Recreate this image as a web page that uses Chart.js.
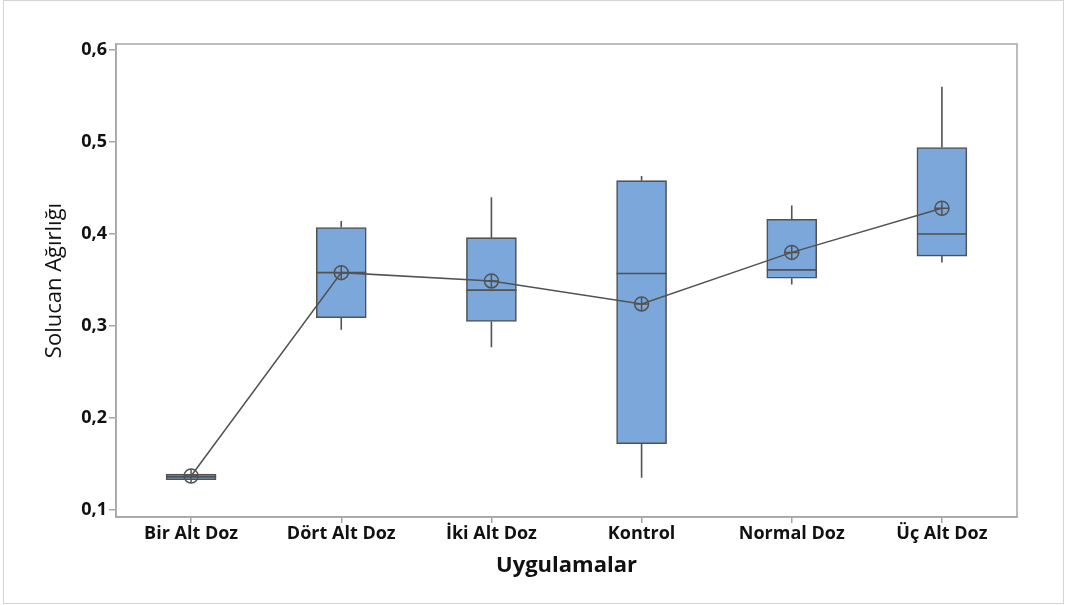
<!DOCTYPE html>
<html>
<head>
<meta charset="utf-8">
<script src="https://cdn.jsdelivr.net/npm/chart.js@4"></script>
<style>
  html, body { margin: 0; padding: 0; background: #fff; }
  #wrap { width: 1066px; height: 605px; position: relative; }
</style>
</head>
<body>
<div id="wrap"><canvas id="boxChart" width="1066" height="605"></canvas></div>
<script>
/* data */
const categories = ["Bir Alt Doz", "Dört Alt Doz", "İki Alt Doz", "Kontrol", "Normal Doz", "Üç Alt Doz"];
const whiskerLow  = [0.133, 0.296, 0.277, 0.135, 0.345, 0.369];
const q1Values    = [0.133, 0.309, 0.305, 0.172, 0.352, 0.376];
const medianVals  = [0.136, 0.358, 0.339, 0.357, 0.361, 0.400];
const q3Values    = [0.139, 0.407, 0.396, 0.458, 0.416, 0.494];
const whiskerHigh = [0.139, 0.414, 0.440, 0.463, 0.431, 0.560];
const meanValues  = [0.137, 0.358, 0.349, 0.324, 0.380, 0.428];
const yTicks      = [0.1, 0.2, 0.3, 0.4, 0.5, 0.6];

const EDGE = "#525252";
const AXIS = "#a6a6a6";

/* whiskers + median, drawn right after the boxes */
const boxDetails = {
  id: "boxDetails",
  afterDatasetDraw(chart, args) {
    if (args.index !== 0) return;
    const ctx = chart.ctx;
    const x = chart.scales.x, y = chart.scales.y;
    const bars = args.meta.data;
    ctx.save();
    ctx.strokeStyle = EDGE;
    ctx.lineWidth = 1.6;
    categories.forEach((c, i) => {
      const cx = x.getPixelForValue(i);
      const half = bars[i].width / 2;
      ctx.beginPath();
      ctx.moveTo(cx, y.getPixelForValue(q3Values[i]));
      ctx.lineTo(cx, y.getPixelForValue(whiskerHigh[i]));
      ctx.moveTo(cx, y.getPixelForValue(q1Values[i]));
      ctx.lineTo(cx, y.getPixelForValue(whiskerLow[i]));
      ctx.moveTo(cx - half, y.getPixelForValue(medianVals[i]));
      ctx.lineTo(cx + half, y.getPixelForValue(medianVals[i]));
      ctx.stroke();
    });
    ctx.restore();
  }
};

/* frame around plot area and outer border */
const frames = {
  id: "frames",
  beforeDraw(chart) {
    const ctx = chart.ctx;
    ctx.save();
    ctx.strokeStyle = "#d4d4d4";
    ctx.lineWidth = 1;
    ctx.strokeRect(3.5, 0.5, 1060, 603);
    ctx.restore();
  },
  afterDraw(chart) {
    const a = chart.chartArea;
    const ctx = chart.ctx;
    ctx.save();
    ctx.strokeStyle = AXIS;
    ctx.lineWidth = 1.5;
    ctx.strokeRect(a.left, a.top, a.right - a.left, a.bottom - a.top);
    ctx.restore();
  }
};

const ctx = document.getElementById("boxChart").getContext("2d");

new Chart(ctx, {
  type: "bar",
  data: {
    labels: categories,
    datasets: [
      {
        type: "bar",
        label: "Box",
        data: q1Values.map((q, i) => [q, q3Values[i]]),
        backgroundColor: "#7ba7da",
        borderColor: EDGE,
        borderWidth: 1.6,
        borderSkipped: false,
        barThickness: 50,
        order: 3
      },
      {
        type: "line",
        label: "Mean",
        data: meanValues,
        borderColor: EDGE,
        borderWidth: 1.5,
        pointStyle: "circle",
        pointRadius: 7,
        pointBorderWidth: 1.5,
        pointBorderColor: EDGE,
        pointBackgroundColor: "rgba(0,0,0,0)",
        tension: 0,
        order: 1
      },
      {
        type: "line",
        label: "MeanCross",
        data: meanValues,
        showLine: false,
        pointStyle: "cross",
        pointRadius: 7,
        pointBorderWidth: 1.5,
        pointBorderColor: EDGE,
        order: 0
      }
    ]
  },
  options: {
    responsive: false,
    animation: false,
    layout: {
      padding: { top: 44, right: 49, left: 0, bottom: 0 }
    },
    plugins: {
      legend: { display: false },
      tooltip: { enabled: false }
    },
    scales: {
      x: {
        offset: true,
        grid: {
          display: true,
          offset: false,
          drawOnChartArea: false,
          color: AXIS,
          tickLength: 6,
          lineWidth: 1.5
        },
        border: { color: AXIS, width: 1.5 },
        ticks: {
          color: "#111",
          padding: 0,
          font: { family: "Open Sans", size: 18, weight: "700" }
        },
        title: {
          display: true,
          text: "Uygulamalar",
          color: "#111",
          padding: { top: 0, bottom: 26 },
          font: { family: "Open Sans", size: 22, weight: "700" }
        },
        afterFit(scale) { scale.height = 88; }
      },
      y: {
        min: 0.0924,
        max: 0.6065,
        afterBuildTicks(scale) {
          scale.ticks = yTicks.map(v => ({ value: v }));
        },
        grid: {
          display: true,
          drawOnChartArea: false,
          color: AXIS,
          tickLength: 7,
          lineWidth: 1.5
        },
        border: { color: AXIS, width: 1.5 },
        ticks: {
          color: "#111",
          padding: 2,
          font: { family: "Open Sans", size: 18, weight: "700" },
          callback: v => Number(v).toFixed(1).replace(".", ",")
        },
        title: {
          display: true,
          text: "Solucan Ağırlığı",
          color: "#111",
          padding: { top: 42, bottom: 0 },
          font: { family: "Open Sans", size: 22, weight: "400" }
        },
        afterFit(scale) { scale.width = 116; }
      }
    }
  },
  plugins: [boxDetails, frames]
});
</script>
</body>
</html>
